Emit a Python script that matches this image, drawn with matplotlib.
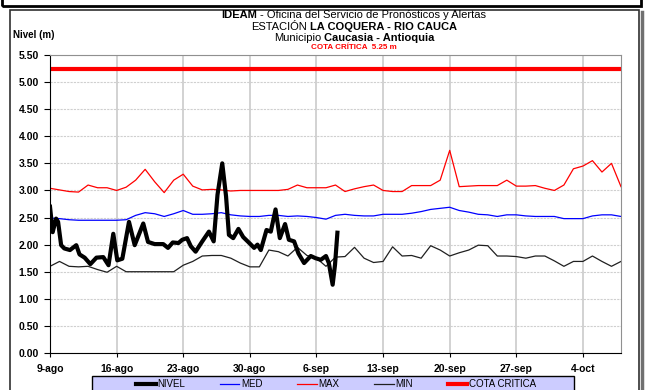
import numpy as np
import matplotlib
matplotlib.use("Agg")
import matplotlib.pyplot as plt
from matplotlib.patches import Rectangle
from matplotlib.lines import Line2D

plt.rcParams['font.family'] = ['Liberation Sans', 'DejaVu Sans']

# Datos (dias desde el 9-ago)
fechas = ['9-ago', '16-ago', '23-ago', '30-ago', '6-sep', '13-sep', '20-sep', '27-sep', '4-oct']
dias = np.arange(61)

maximo = [3.04, 3.01, 2.98, 2.97, 3.10, 3.05, 3.05, 3.00, 3.06, 3.19,
          3.39, 3.16, 2.96, 3.19, 3.30, 3.08, 3.01, 3.02, 3.01, 2.99,
          3.00, 3.00, 3.00, 3.00, 3.00, 3.02, 3.10, 3.05, 3.05, 3.05,
          3.10, 2.98, 3.03, 3.07, 3.10, 3.00, 2.98, 2.98, 3.09, 3.09,
          3.09, 3.19, 3.74, 3.07, 3.08, 3.09, 3.09, 3.09, 3.19, 3.08,
          3.08, 3.09, 3.04, 3.00, 3.10, 3.40, 3.45, 3.55, 3.34, 3.50,
          3.07]

medio = [2.49, 2.48, 2.46, 2.45, 2.45, 2.45, 2.45, 2.45, 2.46, 2.54,
         2.59, 2.57, 2.52, 2.57, 2.63, 2.56, 2.56, 2.57, 2.59, 2.55,
         2.53, 2.52, 2.52, 2.54, 2.54, 2.52, 2.53, 2.52, 2.50, 2.47,
         2.54, 2.56, 2.54, 2.53, 2.53, 2.56, 2.56, 2.56, 2.58, 2.61,
         2.65, 2.67, 2.69, 2.63, 2.60, 2.56, 2.55, 2.52, 2.55, 2.55,
         2.53, 2.52, 2.52, 2.52, 2.48, 2.48, 2.48, 2.53, 2.55, 2.55,
         2.52]

minimo = [1.60, 1.69, 1.60, 1.59, 1.60, 1.54, 1.49, 1.60, 1.50, 1.50,
          1.50, 1.50, 1.50, 1.50, 1.62, 1.69, 1.79, 1.80, 1.80, 1.75,
          1.66, 1.59, 1.59, 1.90, 1.87, 1.79, 1.95, 1.80, 1.75, 1.60,
          1.77, 1.78, 1.95, 1.75, 1.67, 1.69, 1.96, 1.79, 1.80, 1.75,
          1.98, 1.90, 1.79, 1.85, 1.90, 1.99, 1.98, 1.79, 1.79, 1.78,
          1.75, 1.79, 1.79, 1.70, 1.60, 1.69, 1.69, 1.79, 1.69, 1.60,
          1.69]

nivel_t = [0.0, 0.28, 0.64, 0.85, 1.17, 1.5, 2.1, 2.76, 3.1, 3.64,
           4.24, 4.88, 5.6, 6.15, 6.65, 7.07, 7.6, 8.3, 8.9, 9.8,
           10.3, 11.0, 11.9, 12.4, 12.9, 13.5, 13.9, 14.4, 14.8, 15.3,
           16.0, 16.7, 17.2, 17.6, 18.1, 18.5, 18.8, 19.25, 19.8, 20.3,
           21.0, 21.45, 21.8, 22.15, 22.75, 23.2, 23.7, 24.15, 24.7, 25.1,
           25.65, 26.1, 26.7, 27.4, 27.9, 28.45, 29.0, 29.3, 29.7, 29.95,
           30.2]
nivel = [2.70, 2.23, 2.48, 2.42, 1.99, 1.93, 1.90, 1.99, 1.82, 1.76,
         1.64, 1.76, 1.77, 1.62, 2.20, 1.71, 1.74, 2.42, 1.99, 2.39,
         2.05, 2.01, 2.01, 1.94, 2.04, 2.03, 2.09, 2.12, 1.97, 1.87,
         2.06, 2.24, 2.06, 2.92, 3.50, 2.89, 2.18, 2.12, 2.29, 2.14,
         2.02, 1.94, 2.00, 1.90, 2.27, 2.24, 2.65, 2.12, 2.38, 2.09,
         2.06, 1.84, 1.66, 1.79, 1.75, 1.72, 1.79, 1.66, 1.26, 1.63,
         2.22]

cota = 5.25

W, H = 645, 390
fig = plt.figure(figsize=(W / 100, H / 100), dpi=100)

# marcos exteriores
fig.add_artist(Rectangle((2 / W, 1 - 6 / H), 639 / W, 20 / H, transform=fig.transFigure,
                         fill=False, lw=2, edgecolor='black', clip_on=False))
fig.add_artist(Rectangle((10 / W, -0.1), 629 / W, 1.1 - 10 / H, transform=fig.transFigure,
                         fill=False, lw=1.2, edgecolor='#303030', clip_on=False))
fig.add_artist(Line2D([642 / W, 642 / W], [1 - 12 / H, 0], transform=fig.transFigure,
                      color='#707070', lw=2.5))

ax = fig.add_axes([50 / W, 37 / H, 571 / W, 298 / H])

ax.plot(dias, minimo, color='#202020', lw=0.9, label='MIN')
ax.plot(dias, maximo, color='#FF0000', lw=0.9, label='MAX')
ax.plot(dias, medio, color='#0000FF', lw=0.9, label='MED')
ax.plot(nivel_t, nivel, color='black', lw=3, solid_joinstyle='round', label='NIVEL')
ax.axhline(cota, color='#FF0000', lw=3, label='COTA CRITICA')

ax.set_xlim(0, 60)
ax.set_ylim(0, 5.5)
ax.set_xticks(np.arange(len(fechas)) * 7)
ax.set_xticklabels(fechas)
ax.set_yticks(np.arange(0, 5.51, 0.5))
ax.set_yticklabels(['%.2f' % v for v in np.arange(0, 5.51, 0.5)])
for lab in ax.get_xticklabels() + ax.get_yticklabels():
    lab.set_fontweight('bold')
    lab.set_fontsize(7.5)
ax.tick_params(axis='y', length=4, width=0.8, pad=4)
ax.tick_params(axis='x', length=3, width=0.8, pad=5)

ax.xaxis.grid(True, color='#CFCFCF', lw=1.3, ls='-')
ax.yaxis.grid(True, color='#CFCFCF', lw=0.8, ls=(0, (2, 1)))
ax.set_axisbelow(True)
for s in ['top', 'right']:
    ax.spines[s].set_color('#909090')
for s in ['left', 'bottom']:
    ax.spines[s].set_color('black')

# titulo con partes en negrita
r = fig.canvas.get_renderer()


def linea(y_px, partes, size, color='black'):
    objs = [fig.text(0, 1 - y_px / H, s, fontsize=size, fontweight=w, color=color,
                     va='center', ha='left') for s, w in partes]
    ws = [o.get_window_extent(r).width for o in objs]
    gap = 0.28 * size * 100 / 72
    total = sum(ws) + gap * (len(objs) - 1)
    x = 354 - total / 2
    for o, w in zip(objs, ws):
        o.set_x(x / W)
        x += w + gap


linea(15.5, [('IDEAM', 'bold'), ('- Oficina del Servicio de Pronósticos y Alertas', 'normal')], 8)
linea(27, [('ESTACIÓN', 'normal'), ('LA COQUERA - RIO CAUCA', 'bold')], 8)
linea(38, [('Municipio', 'normal'), ('Caucasia - Antioquia', 'bold')], 8)
linea(47.5, [('COTA CRÍTICA  5.25 m', 'bold')], 5.8, color='#FF0000')

fig.text(13 / W, 1 - 35 / H, 'Nivel (m)', fontsize=7, fontweight='bold', va='center', ha='left')

# leyenda
fig.add_artist(Rectangle((92 / W, -0.1), 482 / W, 0.1 + 14 / H, transform=fig.transFigure,
                         facecolor='#CCCCFF', edgecolor='black', lw=1, clip_on=False))
h, l = ax.get_legend_handles_labels()
orden = ['NIVEL', 'MED', 'MAX', 'MIN', 'COTA CRITICA']
hs = [h[l.index(o)] for o in orden]
fig.legend(hs, orden, loc='center', bbox_to_anchor=(336 / W, 6 / H), ncol=5, frameon=False,
           fontsize=7, handlelength=2.0, handletextpad=0.15, columnspacing=3.6,
           borderpad=0, borderaxespad=0)

fig.savefig('out.png', dpi=100)
